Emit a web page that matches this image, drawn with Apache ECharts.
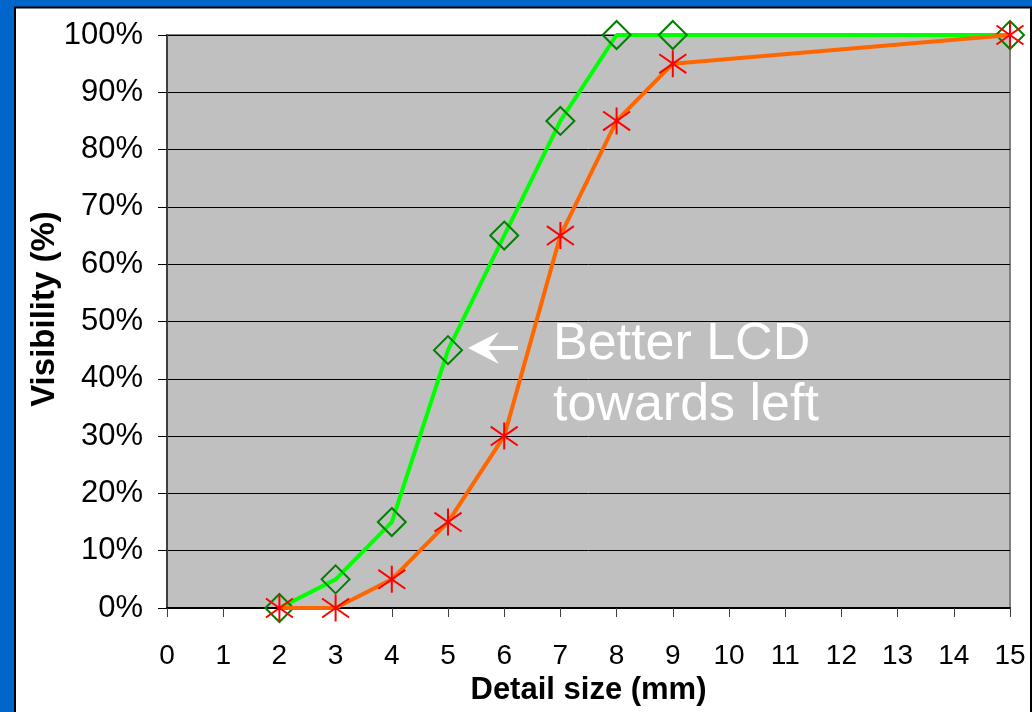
<!DOCTYPE html>
<html>
<head>
<meta charset="utf-8">
<script src="https://cdn.jsdelivr.net/npm/echarts@6/dist/echarts.min.js"></script>
<style>
html,body{margin:0;padding:0;background:#0066CC;}
#chart{width:1032px;height:712px;}
</style>
</head>
<body>
<div id="chart"></div>
<script>
// Data
const detailSize = [2, 3, 4, 5, 6, 7, 8, 9, 15];
const betterLcd = [0, 5, 15, 45, 65, 85, 100, 100, 100];   // green, diamonds
const otherLcd  = [0, 0, 5, 15, 30, 65, 85, 95, 100];      // orange, stars
const xTicks = {min: 0, max: 15, step: 1};
const yTicks = {min: 0, max: 100, step: 10};
const xTitle = 'Detail size (mm)';
const yTitle = 'Visibility (%)';
const note = 'Better LCD\ntowards left';

const pair = (xs, ys) => xs.map((x, i) => [x, ys[i]]);
const FONT = '"Liberation Sans", Arial, sans-serif';

const chart = echarts.init(document.getElementById('chart'), null, {renderer: 'canvas'});
chart.setOption({
  backgroundColor: '#0066CC',
  animation: false,
  graphic: [
    {type: 'rect', z: -10, shape: {x: 15, y: 7.5, width: 1016, height: 720},
     style: {fill: '#ffffff', stroke: '#000000', lineWidth: 2}},
    {type: 'text', z: 10, x: 45, y: 309, rotation: Math.PI / 2,
     style: {text: yTitle, font: 'bold 33px ' + FONT, fill: '#000', align: 'center', verticalAlign: 'middle'}},
    {type: 'text', z: 10, x: 553, y: 314,
     style: {text: note, font: '52px ' + FONT, fill: '#ffffff', lineHeight: 61, align: 'left', verticalAlign: 'top'}},
    {type: 'polygon', z: 10,
     shape: {points: [[468,348],[499,332],[489,346],[518,346],[518,350],[489,350],[499,364]]},
     style: {fill: '#ffffff'}}
  ],
  grid: {
    left: 167, right: 22, top: 35, bottom: 104,
    show: true, backgroundColor: '#C0C0C0', borderColor: '#808080', borderWidth: 2
  },
  xAxis: {
    type: 'value', min: xTicks.min, max: xTicks.max, interval: xTicks.step,
    name: xTitle, nameLocation: 'middle', nameGap: 66,
    nameTextStyle: {fontFamily: FONT, fontWeight: 'bold', fontSize: 31, color: '#000'},
    axisLine: {show: true, onZero: false, lineStyle: {color: '#000', width: 2}},
    axisTick: {show: true, inside: false, length: 9, lineStyle: {color: '#404040', width: 1}},
    axisLabel: {fontFamily: FONT, fontSize: 28, color: '#000', margin: 34},
    splitLine: {show: false}
  },
  yAxis: {
    type: 'value', min: yTicks.min, max: yTicks.max, interval: yTicks.step,
    axisLine: {show: true, lineStyle: {color: '#404040', width: 2}},
    axisTick: {show: true, inside: false, length: 9, lineStyle: {color: '#000', width: 1}},
    axisLabel: {fontFamily: FONT, fontSize: 31, color: '#000', margin: 24, formatter: '{value}%'},
    splitLine: {show: true, lineStyle: {color: '#000', width: 1}}
  },
  series: [
    {
      name: 'Better LCD', type: 'line', data: pair(detailSize, betterLcd),
      clip: false, z: 2,
      lineStyle: {color: '#00FF00', width: 4},
      symbol: 'diamond', symbolSize: 28,
      itemStyle: {color: 'rgba(0,0,0,0)', borderColor: '#008000', borderWidth: 2}
    },
    {
      name: 'Other LCD', type: 'line', data: pair(detailSize, otherLcd),
      clip: false, z: 3,
      lineStyle: {color: '#FF6600', width: 4},
      symbol: 'path://M10 0 L10 20 M0 3 L20 17 M0 17 L20 3', symbolSize: 27,
      itemStyle: {color: 'rgba(0,0,0,0)', borderColor: '#FF0000', borderWidth: 2}
    }
  ]
});
</script>
</body>
</html>
